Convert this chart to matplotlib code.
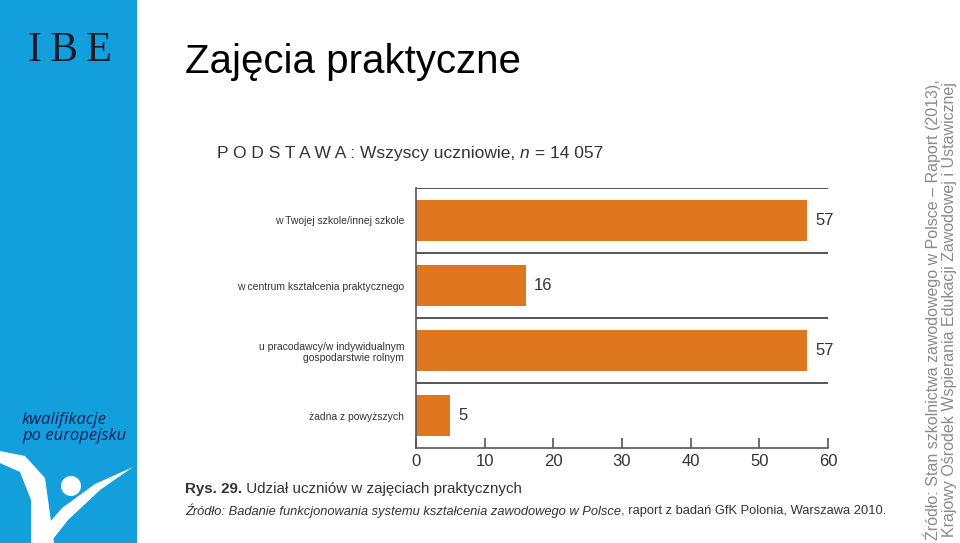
import matplotlib.pyplot as plt
import numpy as np
from matplotlib.patches import Polygon, Circle

# data
categories = [
    "w Twojej szkole/innej szkole",
    "w centrum kształcenia praktycznego",
    "u pracodawcy/w indywidualnym\ngospodarstwie rolnym",
    "żadna z powyższych",
]
values = [57, 16, 57, 5]
x_ticks = [0, 10, 20, 30, 40, 50, 60]

sans = ["Liberation Sans", "DejaVu Sans"]
bar_color = "#DF771F"
text_dark = "#333333"

fig = plt.figure(figsize=(9.6, 5.43), dpi=100)
W, H = 960, 543
renderer = fig.canvas.get_renderer()


def chain(parts, x, y, **common):
    # draw text pieces one after another on the same line (x, y in pixels)
    for txt, kw in parts:
        t = fig.text(x / W, 1 - y / H, txt, ha="left", va="center", **common, **kw)
        x = t.get_window_extent(renderer).x1


# blue sidebar with logo
side = fig.add_axes([0, 0, 137 / W, 1])
side.set_xlim(0, 137)
side.set_ylim(H, 0)
side.set_facecolor("#139FDC")
side.set_xticks([])
side.set_yticks([])
for s in side.spines.values():
    s.set_visible(False)
side.text(70, 51, "I\u2009B\u2009E", family=["Liberation Serif", "DejaVu Serif"],
          fontsize=30, color="#1a1a2a", ha="center", va="center")
side.text(22, 428, "kwalifikacje\npo europejsku", family=["Open Sans", "DejaVu Sans"],
          style="italic", fontsize=12, color="#0e1f5a", ha="left", va="center",
          linespacing=0.95)
# white figure swoosh
side.add_patch(Polygon([(0, 451), (25, 456), (45, 478), (54, 543), (31, 543),
                        (31, 500), (20, 472), (0, 463)], closed=True,
                       facecolor="white", edgecolor="none"))
side.add_patch(Polygon([(32, 543), (62, 508), (95, 484), (133, 467), (100, 490),
                        (68, 520), (50, 543)], closed=True,
                       facecolor="white", edgecolor="none"))
side.add_patch(Circle((71, 486), 10, facecolor="white", edgecolor="none"))

# slide title
fig.text(185 / W, 1 - 62 / H, "Zajęcia praktyczne", family=sans, fontsize=29,
         color="black", ha="left", va="center")

# chart subtitle
chain([("P O D S T A W A : Wszyscy uczniowie, ", {}),
       ("n", {"style": "italic"}),
       (" = 14 057", {})],
      217, 153, family=sans, fontsize=12.5, color=text_dark)

ax = fig.add_axes([416 / W, 1 - 448 / H, 412 / W, 260 / H])
y = np.arange(len(categories))
ax.barh(y, values, height=0.62, color=bar_color, zorder=2)
for i, v in enumerate(values):
    ax.annotate(str(v), (v, i), xytext=(6, 0), textcoords="offset points",
                ha="left", va="center", family=sans, fontsize=12, color=text_dark)
for b in np.arange(len(categories)) - 0.5:
    ax.axhline(b, color="#555555", lw=1.4, zorder=1)

ax.set_xlim(0, 60)
ax.set_ylim(len(categories) - 0.5, -0.5)
ax.set_xticks(x_ticks)
ax.set_xticklabels([str(t) for t in x_ticks], family=sans, fontsize=12, color=text_dark)
ax.set_yticks(y)
ax.set_yticklabels(categories, family=sans, fontsize=7.5, color=text_dark)
ax.tick_params(axis="y", length=0, pad=8.5)
ax.tick_params(axis="x", direction="in", length=7, width=1.2, color="#555555", pad=4)
for lab in ax.get_yticklabels():
    lab.set_multialignment("right")
ax.spines["top"].set_visible(False)
ax.spines["right"].set_visible(False)
for side_name in ("left", "bottom"):
    ax.spines[side_name].set_color("#555555")
    ax.spines[side_name].set_linewidth(1.2)

# caption lines
chain([("Rys. 29.", {"weight": "bold"}),
       (" Udział uczniów w zajęciach praktycznych", {})],
      185, 489, family=sans, fontsize=10.9, color=text_dark)
chain([("Źródło: Badanie funkcjonowania systemu kształcenia zawodowego w Polsce",
        {"style": "italic"}),
       (", raport z badań GfK Polonia, Warszawa 2010.", {})],
      185, 511, family=sans, fontsize=9.25, color=text_dark)

# vertical source note on the right
fig.text(940 / W, 1 - 540 / H,
         "Źródło: Stan szkolnictwa zawodowego w Polsce – Raport (2013),\n"
         "Krajowy Ośrodek Wspierania Edukacji Zawodowej i Ustawicznej",
         family=sans, fontsize=11.5, color="#8a8a8a", rotation=90,
         ha="center", va="bottom", linespacing=1.05)

fig.savefig("out.png", dpi=100)
